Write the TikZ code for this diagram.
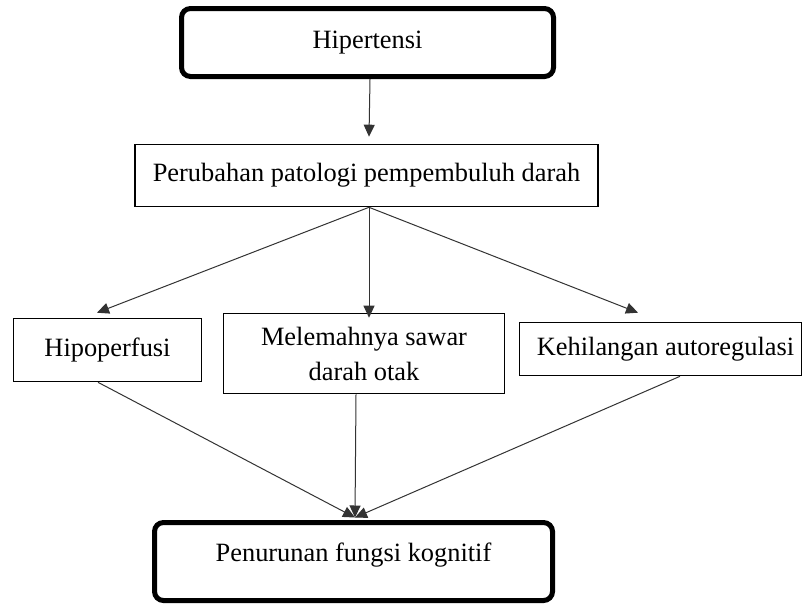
\documentclass[tikz,border=0pt]{standalone}
\usepackage{fontspec}
\setmainfont{Liberation Serif}
\usetikzlibrary{arrows.meta}
\begin{document}
\begin{tikzpicture}[x=1pt,y=-1pt,
  every node/.style={font=\fontsize{26.4}{35}\selectfont, inner sep=0pt},
  thickbox/.style={draw=black, line width=5pt, rounded corners=9pt},
  thinbox/.style={draw=black, line width=1.6pt},
  conn/.style={draw=black!80, line width=1pt},
  arr/.style={conn, -{Triangle[length=12pt,width=11pt]}}]
\useasboundingbox (0,0) rectangle (805,605);
\fill[white] (0,0) rectangle (805,605);
\node[thickbox, minimum width=372pt, minimum height=68pt] (hip) at (367.5,42.5) {Hipertensi};
\node[thinbox, minimum width=463.5pt, minimum height=62pt] (per) at (366.5,175.5) {Perubahan patologi pempembuluh darah};
\node[thinbox, minimum width=188pt, minimum height=63pt] (hipo) at (107.5,350) {Hipoperfusi};
\node[thinbox, minimum width=281pt, minimum height=80pt, align=center] (mel) at (364,353.5) {Melemahnya sawar\\darah otak};
\node[thinbox, minimum width=282pt, minimum height=53pt] (keh) at (660.5,349) {\hspace{10pt}Kehilangan autoregulasi};
\node[thickbox, minimum width=398pt, minimum height=78pt, text height=18pt, text depth=19pt] (pen) at (353.5,561.5) {Penurunan fungsi kognitif};
\coordinate (fan) at ([xshift=2.5pt]per.south);
\draw[arr] ([xshift=2.5pt]hip.south) -- ([xshift=2.5pt,yshift=7pt]per.north);
\draw[arr] (fan) -- ([xshift=-10.5pt,yshift=5pt]hipo.north);
\draw[arr] (fan) -- ([xshift=5pt,yshift=-5pt]mel.north);
\draw[arr] (fan) -- ([xshift=-22.5pt,yshift=9pt]keh.north);
\draw[arr] ([xshift=-9.5pt]hipo.south) -- ([xshift=1.5pt,yshift=2.5pt]pen.north);
\draw[arr] ([xshift=-8pt]mel.south) -- ([xshift=1.5pt,yshift=2.5pt]pen.north);
\draw[arr] ([xshift=19.5pt]keh.south) -- ([xshift=1.5pt,yshift=2.5pt]pen.north);
\end{tikzpicture}
\end{document}
